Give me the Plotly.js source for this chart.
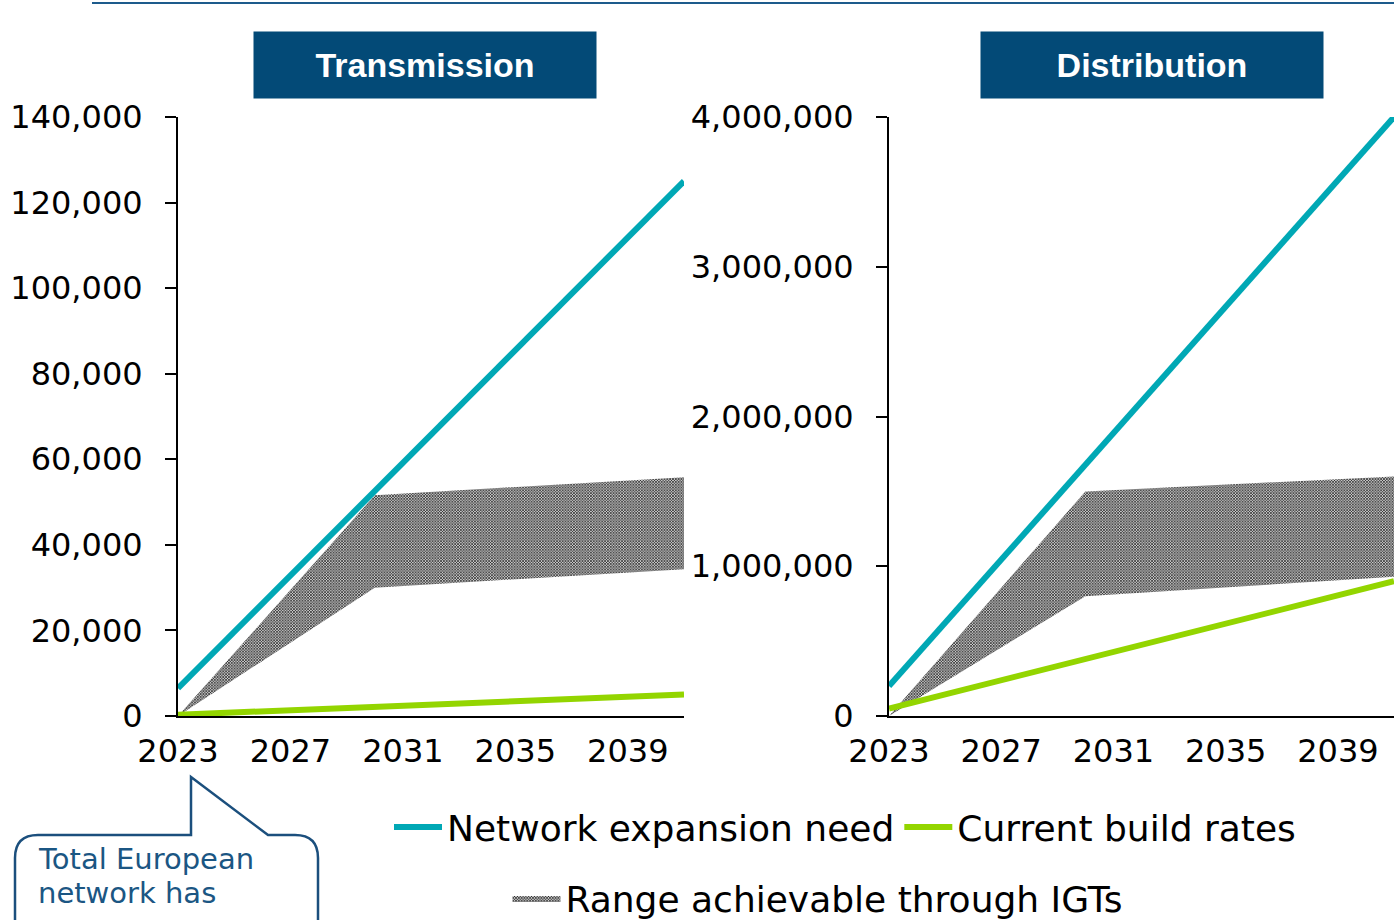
<!DOCTYPE html>
<html>
<head>
<meta charset="utf-8">
<script src="https://cdn.plot.ly/plotly-3.0.1.min.js"></script>
<style>html,body{margin:0;padding:0;background:#fff;}#chart{width:1394px;height:920px;}</style>
</head>
<body>
<div id="chart"></div>
<script>
// ---- data ----
const lineYears = [2023, 2041];
const bandYears = [2023, 2030, 2041];
const xTickYears = [2023, 2027, 2031, 2035, 2039];

const transNeed = [6500, 125000];
const transBuild = [300, 5000];
const transIgtLow = [0, 30000, 34300];
const transIgtHigh = [0, 51600, 55800];

const distNeed = [200000, 4000000];
const distBuild = [50000, 900000];
const distIgtLow = [0, 800000, 930000];
const distIgtHigh = [0, 1500000, 1600000];

const seriesNames = ["Network expansion need", "Current build rates", "Range achievable through IGTs"];
const panelTitles = ["Transmission", "Distribution"];
const calloutLines = ["Total European", "network has"];

// ---- styling ----
const W = 1394, H = 920;
const px = x => x / W;
const py = y => 1 - y / H;
const TEAL = "#00a8b5";
const GREEN = "#93d500";
const NAVY = "#034a77";
const FONT = "DejaVu Sans";
const pattern = {shape: "x", size: 2, solidity: 0.5, fgcolor: "#000", bgcolor: "#cccccc", fgopacity: 1};

function bandTraces(xa, ya, low, high, legend) {
  return [
    {x: bandYears, y: low, xaxis: xa, yaxis: ya, type: "scatter", mode: "lines",
     line: {width: 0, color: "rgba(0,0,0,0)"}, showlegend: false, hoverinfo: "skip"},
    {x: bandYears, y: high, xaxis: xa, yaxis: ya, type: "scatter", mode: "lines",
     line: {width: 0, color: "rgba(0,0,0,0)"}, fill: "tonexty", fillcolor: "#808080",
     fillpattern: pattern, name: seriesNames[2], showlegend: legend, legend: "legend2", hoverinfo: "skip"}
  ];
}
function lineTrace(xa, ya, y, color, name, legend) {
  return {x: lineYears, y: y, xaxis: xa, yaxis: ya, type: "scatter", mode: "lines",
          line: {color: color, width: 6}, name: name, showlegend: legend, legend: "legend", hoverinfo: "skip"};
}

const data = [
  ...bandTraces("x", "y", transIgtLow, transIgtHigh, true),
  lineTrace("x", "y", transNeed, TEAL, seriesNames[0], true),
  lineTrace("x", "y", transBuild, GREEN, seriesNames[1], true),
  ...bandTraces("x2", "y2", distIgtLow, distIgtHigh, false),
  lineTrace("x2", "y2", distNeed, TEAL, seriesNames[0], false),
  lineTrace("x2", "y2", distBuild, GREEN, seriesNames[1], false)
];

const xCommon = {range: [2023, 2041], tickvals: xTickYears, ticktext: xTickYears.map(String),
  showline: true, linecolor: "#000", linewidth: 2, ticks: "", showgrid: false, zeroline: false,
  tickfont: {family: FONT, size: 32, color: "#000"}, ticklabelstandoff: 6, fixedrange: true};
const yCommon = {showline: true, linecolor: "#000", linewidth: 2, ticks: "outside", ticklen: 11,
  tickwidth: 2, tickcolor: "#000", showgrid: false, zeroline: false, tickformat: ",d",
  tickfont: {family: FONT, size: 32, color: "#000"}, ticklabelstandoff: 16, fixedrange: true,
  domain: [py(716), py(117)]};

const layout = {
  width: W, height: H,
  margin: {l: 0, r: 0, t: 0, b: 0, autoexpand: false},
  paper_bgcolor: "#fff", plot_bgcolor: "rgba(0,0,0,0)",
  font: {family: FONT, color: "#000"},
  xaxis: Object.assign({}, xCommon, {domain: [px(178), px(684)], anchor: "y"}),
  yaxis: Object.assign({}, yCommon, {range: [0, 140000], dtick: 20000, anchor: "x"}),
  xaxis2: Object.assign({}, xCommon, {domain: [px(889), 1], anchor: "y2"}),
  yaxis2: Object.assign({}, yCommon, {range: [0, 4000000], dtick: 1000000, anchor: "x2"}),
  legend: {orientation: "h", x: px(845), xanchor: "center", y: py(827), yanchor: "middle", itemwidth: 48,
    font: {family: FONT, size: 36, color: "#000"}, bgcolor: "rgba(0,0,0,0)", traceorder: "normal"},
  legend2: {orientation: "h", x: px(818), xanchor: "center", y: py(898), yanchor: "middle", itemwidth: 48,
    font: {family: FONT, size: 36, color: "#000"}, bgcolor: "rgba(0,0,0,0)"},
  shapes: [
    {type: "line", xref: "paper", yref: "paper", x0: px(92), x1: 1, y0: py(3), y1: py(3),
     line: {color: "#1d5b8c", width: 2}},
    {type: "path", xref: "paper", yref: "paper",
     path: `M ${px(15)},${py(935)} L ${px(15)},${py(858)} Q ${px(15)},${py(835)} ${px(38)},${py(835)} ` +
           `L ${px(191)},${py(835)} L ${px(191)},${py(777)} L ${px(268)},${py(835)} ` +
           `L ${px(295)},${py(835)} Q ${px(318)},${py(835)} ${px(318)},${py(858)} L ${px(318)},${py(935)}`,
     line: {color: "#1b4f7d", width: 2.5}, fillcolor: "rgba(0,0,0,0)"}
  ],
  annotations: [
    {xref: "paper", yref: "paper", x: px(425), y: py(65), xanchor: "center", yanchor: "middle",
     text: "<b>" + panelTitles[0] + "</b>", showarrow: false, bgcolor: NAVY, width: 342, height: 66,
     borderpad: 0, font: {family: "Liberation Sans", size: 34, color: "#fff"}},
    {xref: "paper", yref: "paper", x: px(1152), y: py(65), xanchor: "center", yanchor: "middle",
     text: "<b>" + panelTitles[1] + "</b>", showarrow: false, bgcolor: NAVY, width: 342, height: 66,
     borderpad: 0, font: {family: "Liberation Sans", size: 34, color: "#fff"}},
    {xref: "paper", yref: "paper", x: px(36), y: py(859), xanchor: "left", yanchor: "middle",
     text: calloutLines[0], showarrow: false, font: {family: FONT, size: 29, color: "#1b5683"}},
    {xref: "paper", yref: "paper", x: px(36), y: py(893), xanchor: "left", yanchor: "middle",
     text: calloutLines[1], showarrow: false, font: {family: FONT, size: 29, color: "#1b5683"}}
  ]
};

Plotly.newPlot("chart", data, layout, {staticPlot: true, displayModeBar: false});
</script>
</body>
</html>
